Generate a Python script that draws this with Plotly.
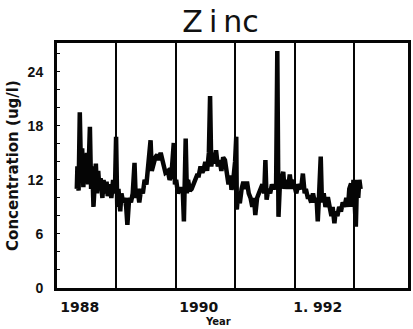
import plotly.graph_objects as go

# Sampling dates (decimal years) and zinc concentration (ug/l)
years = [
    1987.95, 1987.96, 1987.98, 1988.00, 1988.02, 1988.04, 1988.06, 1988.08, 1988.10, 1988.12,
    1988.14, 1988.17, 1988.19, 1988.21, 1988.23, 1988.25, 1988.27, 1988.29, 1988.31, 1988.33,
    1988.35, 1988.38, 1988.40, 1988.42, 1988.45, 1988.47, 1988.50, 1988.53, 1988.56, 1988.59,
    1988.61, 1988.63, 1988.65, 1988.68, 1988.70, 1988.73, 1988.76, 1988.78, 1988.80, 1988.83,
    1988.86, 1988.89, 1988.92, 1988.94, 1988.97, 1989.00, 1989.03, 1989.06, 1989.09, 1989.12,
    1989.15, 1989.19, 1989.21, 1989.24, 1989.27, 1989.30, 1989.33, 1989.36, 1989.39, 1989.42,
    1989.44, 1989.48, 1989.51, 1989.54, 1989.58, 1989.60, 1989.62, 1989.65, 1989.68, 1989.73,
    1989.75, 1989.78, 1989.80, 1989.82, 1989.85, 1989.88, 1989.92, 1989.94, 1989.97, 1990.00,
    1990.03, 1990.06, 1990.08, 1990.11, 1990.14, 1990.17, 1990.19, 1990.21, 1990.24, 1990.27,
    1990.29, 1990.32, 1990.35, 1990.38, 1990.41, 1990.44, 1990.47, 1990.50, 1990.53, 1990.55,
    1990.58, 1990.61, 1990.63, 1990.64, 1990.66, 1990.69, 1990.72, 1990.75, 1990.78, 1990.81,
    1990.84, 1990.87, 1990.90, 1990.93, 1990.95, 1990.98, 1991.01, 1991.04, 1991.07, 1991.10,
    1991.12, 1991.14, 1991.17, 1991.20, 1991.23, 1991.26, 1991.30, 1991.32, 1991.34, 1991.36,
    1991.39, 1991.42, 1991.44, 1991.47, 1991.50, 1991.53, 1991.56, 1991.58, 1991.61, 1991.64,
    1991.67, 1991.72, 1991.75, 1991.78, 1991.80, 1991.83, 1991.86, 1991.89, 1991.92, 1991.95,
    1991.98, 1992.00, 1992.02, 1992.05, 1992.07, 1992.10, 1992.13, 1992.15, 1992.17, 1992.20,
    1992.23, 1992.25, 1992.28, 1992.30, 1992.33, 1992.36, 1992.39, 1992.42, 1992.45, 1992.48,
    1992.51, 1992.53, 1992.56, 1992.58, 1992.60, 1992.62, 1992.64, 1992.66, 1992.68, 1992.70,
    1992.72,
]
zinc = [
    11.0, 13.5, 10.8, 19.5, 13.0, 15.5, 11.2, 14.0, 12.0, 15.0,
    11.5, 17.9, 11.0, 13.5, 9.0, 12.5, 13.8, 10.5, 13.0, 11.0,
    12.2, 10.0, 12.0, 10.5, 11.8, 10.2, 11.5, 10.0, 12.0, 10.5,
    16.8, 9.0, 11.0, 8.5, 10.5, 9.5, 10.0, 9.0, 7.0, 10.0,
    9.5, 10.5, 13.9, 10.0, 11.0, 9.5, 11.0, 10.5, 12.0, 11.5,
    13.5, 16.4, 13.0, 14.0, 14.5, 14.8, 14.2, 15.0, 14.0, 13.5,
    12.8, 13.0, 12.0, 12.5, 16.1, 11.5, 12.0, 10.5, 11.0, 11.0,
    7.4, 16.6, 10.5, 12.0, 10.8, 11.0, 11.6, 12.0, 12.5, 12.5,
    13.5, 12.8, 13.1, 14.0, 13.0, 15.0, 21.3, 13.5, 15.0, 13.8,
    15.3, 13.5, 14.2, 13.0, 14.5, 14.2, 12.5, 11.5, 12.5, 10.9,
    12.0, 14.0, 16.8, 8.7, 10.5, 9.4, 11.0, 11.8, 11.0, 11.8,
    10.5, 10.0, 9.0, 10.0, 8.1, 10.0, 10.5, 11.0, 11.5, 10.5,
    14.2, 9.8, 11.0, 10.5, 11.5, 11.0, 11.5, 26.3, 7.9, 11.0,
    12.0, 12.9, 11.0, 12.0, 11.0, 12.6, 11.0, 12.0, 11.3, 10.5,
    11.5, 11.0, 12.7, 10.5, 11.0, 10.1, 10.1, 9.5, 10.5, 9.5,
    10.0, 7.4, 10.0, 14.6, 9.5, 10.5, 9.0, 10.0, 10.1, 9.0,
    8.0, 9.0, 7.2, 8.5, 8.0, 9.0, 8.5, 9.5, 9.0, 10.0,
    9.0, 11.0, 11.6, 9.0, 12.0, 9.5, 6.8, 12.0, 10.0, 12.0,
    11.0,
]

x_tick_vals = [1988, 1990, 1992]
x_tick_text = ["1988", "1990", "1. 992"]
y_tick_vals = [0, 6, 12, 18, 24]
y_tick_text = ["0", "6", "12", "18", "24"]
year_rule_start = 1988.61  # first vertical year rule

fig = go.Figure(
    go.Scatter(
        x=years,
        y=zinc,
        mode="lines",
        line=dict(color="#050505", width=4.5),
        showlegend=False,
    )
)

fig.update_layout(
    width=413,
    height=329,
    margin=dict(l=57, r=2, t=43, b=41),
    paper_bgcolor="white",
    plot_bgcolor="white",
    title=dict(
        text="Z\u2009i\u2009nc",
        font=dict(family="DejaVu Sans", size=30, color="#111"),
        xref="paper",
        x=0.466,
        xanchor="center",
        yref="container",
        y=0.935,
        yanchor="middle",
    ),
    annotations=[
        dict(
            text="Concentration (ug/l)",
            xref="paper",
            yref="paper",
            x=-0.127,
            y=0.50,
            xanchor="center",
            yanchor="middle",
            textangle=-90,
            showarrow=False,
            font=dict(family="DejaVu Sans", size=15, color="#111", weight="bold"),
        ),
        dict(
            text="Year",
            xref="paper",
            yref="paper",
            x=0.46,
            y=-0.135,
            xanchor="center",
            yanchor="middle",
            showarrow=False,
            font=dict(family="DejaVu Sans", size=10, color="#111", weight="bold"),
        ),
    ],
)

fig.update_xaxes(
    range=[1987.617, 1993.517],
    tickvals=x_tick_vals,
    ticktext=x_tick_text,
    ticks="",
    ticklabelstandoff=4,
    tickfont=dict(family="DejaVu Sans", size=14, color="#111", weight="bold"),
    showgrid=False,
    zeroline=False,
    showline=True,
    linecolor="#050505",
    linewidth=3,
    mirror=True,
    minor=dict(
        tick0=year_rule_start,
        dtick=1,
        showgrid=True,
        gridcolor="#050505",
        gridwidth=2,
        ticks="",
    ),
)

fig.update_yaxes(
    range=[0, 27.2],
    tickvals=y_tick_vals,
    ticktext=y_tick_text,
    ticks="",
    ticklabelstandoff=8,
    tickfont=dict(family="Liberation Sans", size=14, color="#111", weight="bold"),
    showgrid=False,
    zeroline=False,
    showline=True,
    linecolor="#050505",
    linewidth=3,
    mirror=True,
    minor=dict(dtick=2, ticks="inside", ticklen=3, tickcolor="#050505", showgrid=False),
)

fig.write_html("out.html")
